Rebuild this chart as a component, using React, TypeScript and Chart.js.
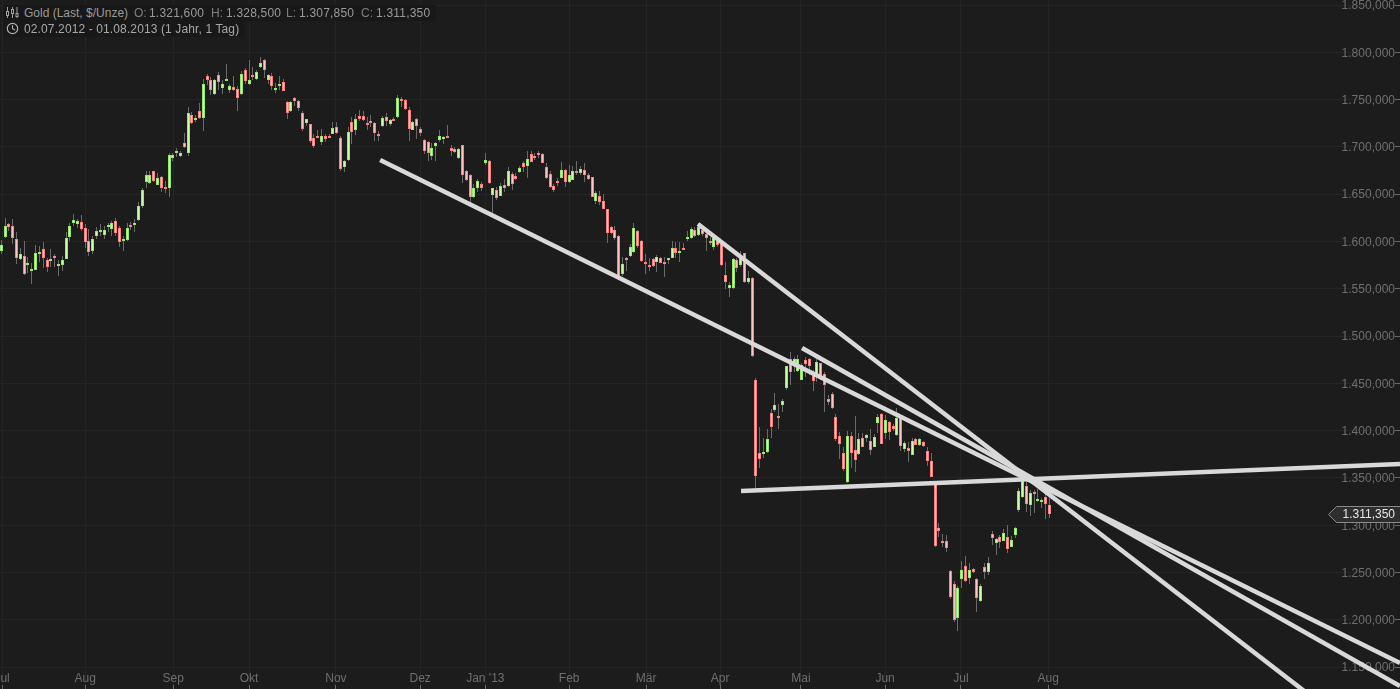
import React, { useEffect, useRef } from "react";
import { Chart, registerables } from "chart.js";

Chart.register(...registerables);

const opens = [
1567,1590,1605,1618,1616,1603,1581,1585,1575,1569,
1570,1587,1592,1580,1579,1585,1574,1575,1581,1605,
1619,1618,1621,1614,1601,1590,1606,1610,1607,1616,
1613,1622,1614,1602,1602,1617,1619,1623,1638,1663,
1662,1674,1660,1668,1658,1656,1688,1694,1690,1704,
1693,1734,1728,1738,1731,1775,1771,1756,1776,1762,
1770,1760,1763,1761,1756,1781,1766,1776,1772,1784,
1792,1771,1775,1761.5,1764,1769,1747,1738,1752,1749,
1736,1725,1724,1709,1712,1705,1711,1711,1714,1721,
1709,1679,1686,
1726,1718,1733,1733,1725,1727,1725,1714,1722,1732,
1724,1729,1732,1751,1750,1739,1718,1729,1719,1707,
1705,1690,1701,1707,1709,1712,1699,1698,1688,1702,
1674,1670,1647,1657,1661,1683,1685,1649,1654,1648,
1660,1659,1671,1669,1673,1683,1680,1692,1690.3,1693,
1692,1679,1671,1659,1663.5,1667,1676,1663,1665,1674,
1672,1676,1670,1668,1643,1648,1643,1634,1615,1612,
1606,1566,1583,1585,1589,1611,1601,1578,1575,1581,
1578,1582,1578,1581,1583,1593,1588,1593.1,1604,1604,
1612,1607,1612.5,1608,1601,1594.5,1600,1597,1565,1551,
1550.5,1580,1575,1587.5,1557.5,1561,1453,1376,1375.6,1377,
1419,1422,1415,1427,1445,1476,1471,1463,1454,1475,
1476,1462,1460,1471,1460,1433,1439,1414,1394,1376,
1345.5,1394,1380,1375,1392,1392.5,1389,1383,1408,1418,
1397,1409,1404.5,1395,1414,1381,1382,1374.5,1391,1385,
1388,1378,1368,1345,1297,1282.8,1283,1252,1238,1202,
1243,1257,1244,1254,1243,1220,1256,1251,1291,1281,
1288,1283.5,1288,1277,1290,1316,1330,1341,1321,1334.7,
1326.9,1325,1330,1321.6,
];

const highs = [
1605,1602,1625,1620,1624,1610,1593,1601,1584,1577,
1596,1595,1599,1582,1592,1587,1580,1585,1610,1620,
1629,1624,1628,1618,1613,1606,1615,1618,1616,1620,
1622,1625,1616,1606,1619,1621,1624,1642,1656,1674,
1674,1675,1672,1669,1664,1694,1694,1699,1696,1715,
1742,1737,1734,1746,1772,1777,1774,1772,1779,1771,
1788,1767,1775,1764,1780,1783,1792,1784,1781,1795,
1793,1777,1778,1768,1775,1772,1748,1748,1753,1750,
1738,1730,1724,1714,1718,1719,1714,1714,1726,1726,
1712,1686,1721,
1732,1735,1739,1738,1732,1734,1726,1717,1733,1736,
1730,1732,1755,1753,1751,1742,1727,1731,1721,1708,
1706,1704,1705,1718,1712,1723,1702,1700,1699,1702,
1676,1671,1661,1666,1663,1694,1686,1657,1658,1662,
1666,1679,1673,1672,1680,1685,1696,1696,1693,1696,
1694,1683,1674,1661,1667,1684,1677,1681,1680,1685,
1680,1683,1672,1668.5,1653,1653,1650,1634,1616,1616,
1607,1584,1584,1597,1620,1612,1602,1587,1582,1583,
1586,1583.5,1583.5,1583,1600,1599,1599,1598,1611,1615,
1615,1619,1616,1610,1605,1607,1603,1599,1578,1557.5,
1582,1582,1590,1588,1569,1562,1456,1404,1392,1402,
1422.5,1440,1428,1433,1468,1483.5,1478,1480,1471,1478,
1477,1464,1476,1472,1462,1438,1440.5,1418,1399,1383,
1400,1399,1415,1397,1397,1396,1402,1396,1418,1419,
1417,1410,1407,1423.5,1415,1389,1388,1392,1392,1392,
1389,1383,1376,1346,1302,1291,1289.5,1252.5,1241,1236,
1262,1267,1260,1255,1244,1238,1260,1266,1294,1286,
1289.5,1295.5,1300,1288.5,1298,1339,1350.5,1346,1337,1337,
1338,1329,1333,1328.5,
];

const lows = [
1563,1587,1604,1611,1597,1576,1580,1565,1567,1555,
1570,1578,1572,1568,1573,1573,1563,1569,1581,1601,
1616,1614,1611,1593,1585,1587,1603,1606,1603,1610,
1606,1606,1594,1590,1600,1612,1610,1622,1635,1657,
1661,1663,1660,1652,1651,1647,1685,1689,1689,1699,
1690,1724,1726,1730,1717,1765,1755,1755,1760,1756,
1770,1757,1759,1738,1755,1767,1765,1771,1771,1783,
1773,1767,1760,1757,1760,1759,1729,1737,1743,1738,
1717,1722,1704,1699,1709,1702,1705,1709,1714,1714,
1675,1673,1685,
1703,1713,1727,1727,1718,1721,1706,1706,1721,1722,
1722,1728,1731,1742,1739,1706,1718,1708,1712,1692,
1685,1686,1685,1705,1703,1709,1690,1693,1687,1662,
1664,1640,1646,1652,1653,1681,1661,1629,1644,1648,
1652,1658,1654,1665,1672,1673,1667,1684,1686,1688,
1683,1666,1656,1652,1659,1667,1658,1662,1665,1670,
1670,1663,1665,1647,1640,1639,1634,1598,1608,1602,
1561,1564,1569,1584,1588,1593,1578,1566,1569,1573,
1568,1577,1562,1576,1582,1583,1578,1591,1600,1603,
1605,1606,1606,1590,1596,1591,1594,1574,1550,1541,
1550,1568,1573,1556,1555,1478,1337,1360,1371,1376,
1392.5,1420,1402,1420,1443,1448,1462,1462,1453.5,1457,
1459,1442,1451,1453.5,1420,1427,1423,1389,1370,1357,
1345,1360,1356,1374,1383,1388,1374,1383,1397,1385.5,
1391,1390,1400,1394,1378,1377,1367,1374,1385,1384,
1383,1363,1350.5,1277,1288,1277,1272,1222,1197.5,1188,
1234,1240,1238,1249,1208.5,1219,1243,1247,1279,1268,
1276,1283,1271,1276.5,1286,1314,1329,1314,1310,1312.5,
1324,1318,1307,1307.85,
];

const closes = [
1600,1596,1616,1615,1604,1582,1587,1566,1577,1571,
1588,1589,1582,1573,1581,1583,1576,1580,1604,1616,
1623,1622,1613,1599,1589,1603,1611,1612,1612,1617,
1620,1609,1599,1603,1614,1616,1620,1637,1654,1670,
1670,1664,1667,1656,1655,1691,1691,1696,1693,1700,
1736,1725,1731,1731,1767,1771,1760,1771,1769,1767,
1772,1764,1760,1752,1777,1770,1771,1774,1779,1789,
1781,1776,1764,1762,1767,1759,1736,1747,1749,1741,
1719,1729,1706,1701,1710,1711,1708,1710,1720,1715,
1677,1685,1716,
1716,1730,1729,1728,1724,1726,1715,1713,1731,1727,
1728,1728.7,1752,1748,1740,1719,1726,1722,1715,1696,
1694,1699,1704,1712,1710,1711,1696,1695,1698,1670,
1665,1647,1657,1664,1656,1686,1662,1656,1646,1659,
1657,1674,1661,1666,1678,1679,1687,1684,1689.6,1692,
1683,1667,1658,1654,1662.8,1676,1663,1670,1674,1672,
1677,1670,1666,1647.3,1651,1642,1634,1609,1609,1604,
1562,1576,1581,1594,1614,1595,1579,1576.5,1573,1574,
1584,1577.5,1577.5,1582,1593,1588,1590,1592.4,1604.4,1613,
1606,1615,1608,1604,1599,1604,1596,1575.5,1557.5,1554,
1581,1572,1584,1557.5,1561,1478.5,1352,1370,1377,1391,
1404,1427,1413,1431,1468,1462,1476,1476,1469,1470,
1468,1452,1473,1455,1448,1430,1424,1391.5,1386,1359,
1394,1376,1369,1391,1383,1395,1380,1393,1414,1386,
1411,1399,1402,1413,1384,1386.5,1378,1389,1385,1391,
1384,1368,1351,1278,1294,1282.1,1276,1224,1200,1234,
1253,1241,1253,1250,1223,1236,1251,1260,1286,1285,
1282.5,1292,1275,1284,1297,1336,1348,1322,1334,1333.2,
1327.3,1326.5,1322,1311.35,
];

const monthLabels = ["Jul", "Aug", "Sep", "Okt", "Nov", "Dez", "Jan '13", "Feb", "Mär", "Apr", "Mai", "Jun", "Jul", "Aug"];
const monthTickIndex = [1.2, 23, 46.1, 66, 88.8, 110.9, 128, 150, 170.2, 189.6, 210.8, 232.9, 252.8, 275.7];
const priceTicks = [1150, 1200, 1250, 1300, 1350, 1400, 1450, 1500, 1550, 1600, 1650, 1700, 1750, 1800, 1850];

const trendA = [{ x: 100.4, y: 1686.1 }, { x: 368, y: 1154.2 }];
const trendB = [{ x: 211.1, y: 1487.3 }, { x: 368, y: 1129.9 }];
const trendC = [{ x: 183.8, y: 1618.4 }, { x: 344.4, y: 1119.9 }];
const trendD = [{ x: 195.1, y: 1336.1 }, { x: 368, y: 1364.7 }];

const lastPrice = "1.311,350";

const BG = "#1c1c1c";
const GRID = "#252525";
const AXIS_TEXT = "#6f6f6f";
const UP_FILL = "#ccffaa";
const UP_EDGE = "#96e86a";
const DOWN_FILL = "#ffc4c4";
const DOWN_EDGE = "#ff8080";
const WICK = "#6a6a6a";
const TREND = "#d9d9d9";
const FONT = '"Liberation Sans", Arial, sans-serif';

const fmtPrice = (v: number) => `${Math.floor(v / 1000)}.${String(v % 1000).padStart(3, "0")},000`;

const snapPlugin = {
  id: "snapBars",
  afterDatasetsUpdate(chart: any) {
    chart.data.datasets.forEach((ds: any, di: number) => {
      if (ds.type === "line") return;
      const minH = ds.label === "body" ? 2 : 1;
      chart.getDatasetMeta(di).data.forEach((el: any) => {
        el.x = Math.floor(el.x) + 0.5;
        const top = Math.round(el.y);
        let base = Math.round(el.base);
        if (base - top < minH) base = top + minH;
        el.y = top;
        el.base = base;
      });
    });
  },
};

const priceTagPlugin = {
  id: "priceTag",
  afterDraw(chart: any) {
    const { ctx, scales } = chart;
    const y = Math.round(scales.y.getPixelForValue(closes[closes.length - 1])) + 0.5;
    const right = chart.width + 2;
    ctx.save();
    ctx.beginPath();
    ctx.moveTo(1328.5, y);
    ctx.lineTo(1336.5, y - 8);
    ctx.lineTo(right, y - 8);
    ctx.lineTo(right, y + 8);
    ctx.lineTo(1336.5, y + 8);
    ctx.closePath();
    ctx.fillStyle = "#2e2e2e";
    ctx.fill();
    ctx.strokeStyle = "#8a8a8a";
    ctx.lineWidth = 1;
    ctx.stroke();
    ctx.fillStyle = "#e6e6e6";
    ctx.font = `12px ${FONT}`;
    ctx.textAlign = "right";
    ctx.textBaseline = "middle";
    ctx.fillText(lastPrice, 1395, y + 0.5);
    ctx.restore();
  },
};

const zeroHeight = (scale: any) => {
  scale.height = 0;
  scale.paddingLeft = 0;
  scale.paddingRight = 0;
  scale.paddingTop = 0;
  scale.paddingBottom = 0;
};
const zeroWidth = (scale: any) => {
  scale.width = 0;
  scale.paddingLeft = 0;
  scale.paddingRight = 0;
  scale.paddingTop = 0;
  scale.paddingBottom = 0;
};

const headText: React.CSSProperties = {
  position: "absolute",
  whiteSpace: "nowrap",
  font: `12px ${FONT}`,
  color: "#9a9a9a",
};

const strip: React.CSSProperties = { position: "absolute", background: "#181818" };

function Label({ x, y, c, t, s }: { x: number; y: number; c?: string; t: string; s?: string }) {
  return <span style={{ ...headText, left: x, top: y, color: c || headText.color, letterSpacing: s }}>{t}</span>;
}

export default function App() {
  const ref = useRef<HTMLCanvasElement | null>(null);

  useEffect(() => {
    if (!ref.current) return;
    const up = closes.map((c, i) => c >= opens[i]);
    const chart = new Chart(ref.current, {
      type: "bar",
      plugins: [snapPlugin, priceTagPlugin],
      data: {
        datasets: [
          {
            type: "line", label: "A", data: trendA, borderColor: TREND, borderWidth: 4.5,
            pointRadius: 0, order: 0, tension: 0,
          },
          {
            type: "line", label: "B", data: trendB, borderColor: TREND, borderWidth: 4.5,
            pointRadius: 0, order: 0, tension: 0,
          },
          {
            type: "line", label: "C", data: trendC, borderColor: TREND, borderWidth: 4.5,
            pointRadius: 0, order: 0, tension: 0,
          },
          {
            type: "line", label: "D", data: trendD, borderColor: TREND, borderWidth: 4.5,
            pointRadius: 0, order: 0, tension: 0,
          },
          {
            type: "bar", label: "body",
            data: closes.map((c, i) => ({ x: i, y: [Math.min(c, opens[i]), Math.max(c, opens[i])] })),
            backgroundColor: up.map((u) => (u ? UP_FILL : DOWN_FILL)),
            borderColor: up.map((u) => (u ? UP_EDGE : DOWN_EDGE)),
            borderWidth: 1, borderSkipped: false, inflateAmount: 0, barThickness: 3, grouped: false, order: 1,
          },
          {
            type: "bar", label: "wick",
            data: highs.map((h, i) => ({ x: i, y: [lows[i], h] })),
            backgroundColor: WICK,
            borderWidth: 0, inflateAmount: 0, barThickness: 1, grouped: false, order: 2,
          },
        ] as any,
      },
      options: {
        animation: false,
        responsive: false,
        events: [],
        layout: { padding: 0 },
        plugins: { legend: { display: false }, tooltip: { enabled: false }, title: { display: false } },
        scales: {
          x: {
            type: "linear",
            position: "bottom",
            offset: false,
            min: 0.656,
            max: 368,
            afterFit: zeroHeight,
            afterBuildTicks: (s: any) => { s.ticks = monthTickIndex.map((value) => ({ value })); },
            border: { display: false },
            grid: { color: GRID, tickColor: "#6a6a6a", tickLength: -4, lineWidth: 1, offset: false },
            ticks: {
              autoSkip: false, maxRotation: 0, minRotation: 0, mirror: true, padding: 3, color: AXIS_TEXT,
              font: { family: FONT, size: 12 },
              callback: (_v: any, i: number) => monthLabels[i],
            },
          },
          y: {
            type: "linear",
            position: "right",
            min: 1126.8,
            max: 1855.3,
            afterFit: zeroWidth,
            afterBuildTicks: (s: any) => { s.ticks = priceTicks.map((value) => ({ value })); },
            border: { display: false },
            grid: { color: GRID, tickColor: "#6a6a6a", tickLength: -5, lineWidth: 1 },
            ticks: {
              mirror: true, padding: -5, labelOffset: 1, color: AXIS_TEXT, autoSkip: false,
              font: { family: FONT, size: 12 },
              callback: (v: any) => fmtPrice(Number(v)),
            },
          },
        },
      } as any,
    });
    return () => chart.destroy();
  }, []);

  return (
    <div style={{ position: "fixed", left: 0, top: 0, width: 1400, height: 689, overflow: "hidden", background: BG }}>
      <canvas ref={ref} width={1400} height={689} style={{ display: "block", width: 1400, height: 689 }} />
      <div style={{ ...strip, left: 3, top: 5, width: 433, height: 16 }} />
      <div style={{ ...strip, left: 3, top: 21, width: 242, height: 16 }} />
      <svg width="14" height="12" viewBox="0 0 14 12" style={{ position: "absolute", left: 5, top: 7 }}>
        <g stroke="#a0a0a0" strokeWidth="1" fill="none">
          <path d="M2.5 0V11M7.5 0V11M12 0V11" />
          <rect x="1.5" y="4.5" width="2" height="4" fill="#1c1c1c" />
          <rect x="6.5" y="2.5" width="2" height="4" fill="#1c1c1c" />
          <rect x="11" y="6.5" width="2" height="3" fill="#1c1c1c" />
        </g>
      </svg>
      <svg width="13" height="13" viewBox="0 0 13 13" style={{ position: "absolute", left: 6, top: 22 }}>
        <circle cx="6.5" cy="6.5" r="5.2" stroke="#b0b0b0" strokeWidth="1.2" fill="none" />
        <path d="M6.5 3.2V6.7L9 8" stroke="#b0b0b0" strokeWidth="1.1" fill="none" />
      </svg>
      <Label x={24} y={6} t="Gold (Last, $/Unze)" />
      <Label x={134} y={6} c="#808080" t="O:" />
      <Label x={149} y={6} s="0.2px" t="1.321,600" />
      <Label x={211} y={6} c="#808080" t="H:" />
      <Label x={226} y={6} s="0.2px" t="1.328,500" />
      <Label x={286} y={6} c="#808080" t="L:" />
      <Label x={299} y={6} s="0.2px" t="1.307,850" />
      <Label x={361} y={6} c="#808080" t="C:" />
      <Label x={376} y={6} s="0.2px" t="1.311,350" />
      <Label x={24} y={22} c="#a8a8a8" s="0.12px" t="02.07.2012 - 01.08.2013 (1 Jahr, 1 Tag)" />
    </div>
  );
}
